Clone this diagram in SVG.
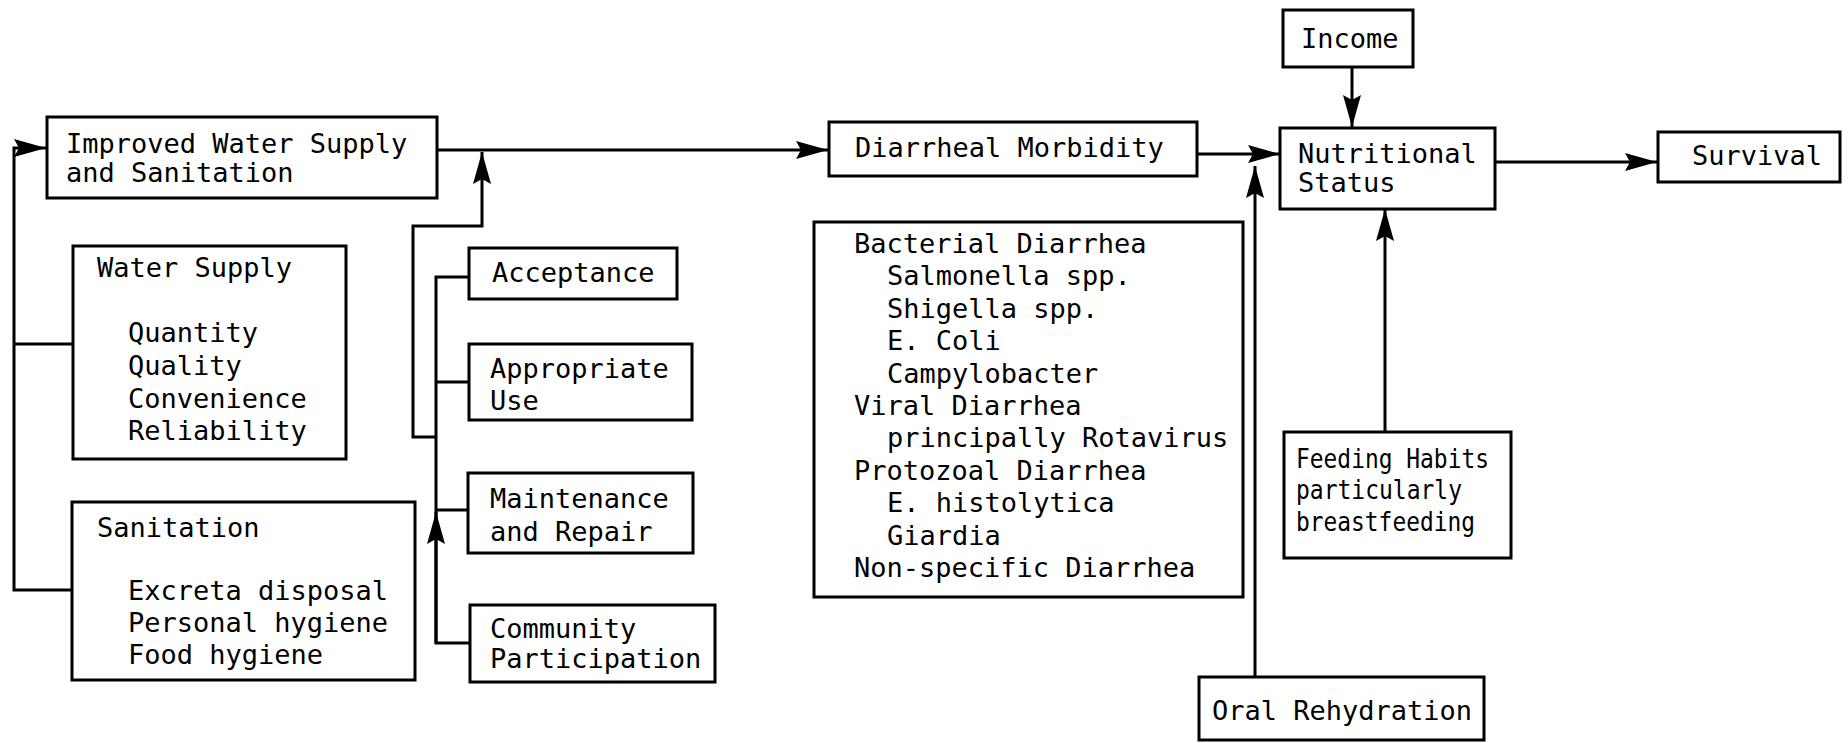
<svg xmlns="http://www.w3.org/2000/svg" width="1848" height="743" viewBox="0 0 1848 743">
<style>
.box{fill:#fff;stroke:#000;stroke-width:3}
.t{font-family:"DejaVu Sans Mono","Liberation Mono",monospace;font-size:27px;fill:#000}
.c{fill:none;stroke:#000;stroke-width:3}
</style>
<defs>
<marker id="ah" markerUnits="userSpaceOnUse" markerWidth="34" markerHeight="20" refX="32" refY="9" orient="auto">
<path d="M0,0 L32,9 L0,18 L5,9 z" fill="#000"/>
</marker>
</defs>
<rect width="1848" height="743" fill="#fff"/>
<g id="connectors">
<path class="c" d="M73,590 H14 V148 H46" marker-end="url(#ah)"/>
<path class="c" d="M14,344 H73"/>
<path class="c" d="M437,150 H828" marker-end="url(#ah)"/>
<path class="c" d="M436,437 H413 V226 H482 V152" marker-end="url(#ah)"/>
<path class="c" d="M469,277 H436 V643 H470"/>
<path class="c" d="M436,382 H469"/>
<path class="c" d="M436,510 H468"/>
<path class="c" d="M436,643 V512" marker-end="url(#ah)"/>
<path class="c" d="M1197,154 H1280" marker-end="url(#ah)"/>
<path class="c" d="M1255,677 V166" marker-end="url(#ah)"/>
<path class="c" d="M1352,67 V127" marker-end="url(#ah)"/>
<path class="c" d="M1495,162 H1657" marker-end="url(#ah)"/>
<path class="c" d="M1385,432 V209" marker-end="url(#ah)"/>
</g>
<g id="improved">
<rect class="box" x="47" y="117" width="390" height="81"/>
<text class="t" x="66" y="153">Improved Water Supply</text>
<text class="t" x="66" y="182">and Sanitation</text>
</g>
<g id="water-supply">
<rect class="box" x="73" y="246" width="273" height="213"/>
<text class="t" x="97" y="277">Water Supply</text>
<text class="t" x="128" y="342">Quantity</text>
<text class="t" x="128" y="375">Quality</text>
<text class="t" x="128" y="408">Convenience</text>
<text class="t" x="128" y="440">Reliability</text>
</g>
<g id="sanitation">
<rect class="box" x="72" y="502" width="343" height="178"/>
<text class="t" x="97" y="537">Sanitation</text>
<text class="t" x="128" y="600">Excreta disposal</text>
<text class="t" x="128" y="632">Personal hygiene</text>
<text class="t" x="128" y="664">Food hygiene</text>
</g>
<g id="acceptance">
<rect class="box" x="469" y="248" width="208" height="51"/>
<text class="t" x="492" y="282">Acceptance</text>
</g>
<g id="appropriate-use">
<rect class="box" x="469" y="344" width="223" height="76"/>
<text class="t" x="490" y="378">Appropriate</text>
<text class="t" x="490" y="410">Use</text>
</g>
<g id="maintenance">
<rect class="box" x="468" y="473" width="225" height="80"/>
<text class="t" x="490" y="508">Maintenance</text>
<text class="t" x="490" y="541">and Repair</text>
</g>
<g id="community">
<rect class="box" x="470" y="605" width="245" height="77"/>
<text class="t" x="490" y="638">Community</text>
<text class="t" x="490" y="668">Participation</text>
</g>
<g id="diarrheal-morbidity">
<rect class="box" x="829" y="122" width="368" height="54"/>
<text class="t" x="855" y="157">Diarrheal Morbidity</text>
</g>
<g id="diarrhea-types">
<rect class="box" x="814" y="222" width="429" height="375"/>
<text class="t" x="854" y="253">Bacterial Diarrhea</text>
<text class="t" x="887" y="285">Salmonella spp.</text>
<text class="t" x="887" y="318">Shigella spp.</text>
<text class="t" x="887" y="350">E. Coli</text>
<text class="t" x="887" y="383">Campylobacter</text>
<text class="t" x="854" y="415">Viral Diarrhea</text>
<text class="t" x="887" y="447">principally Rotavirus</text>
<text class="t" x="854" y="480">Protozoal Diarrhea</text>
<text class="t" x="887" y="512">E. histolytica</text>
<text class="t" x="887" y="545">Giardia</text>
<text class="t" x="854" y="577">Non-specific Diarrhea</text>
</g>
<g id="oral-rehydration">
<rect class="box" x="1199" y="677" width="285" height="63"/>
<text class="t" x="1212" y="720">Oral Rehydration</text>
</g>
<g id="income">
<rect class="box" x="1283" y="10" width="130" height="57"/>
<text class="t" x="1301" y="48">Income</text>
</g>
<g id="nutritional-status">
<rect class="box" x="1280" y="128" width="215" height="81"/>
<text class="t" x="1298" y="163">Nutritional</text>
<text class="t" x="1298" y="192">Status</text>
</g>
<g id="survival">
<rect class="box" x="1658" y="132" width="182" height="50"/>
<text class="t" x="1692" y="165">Survival</text>
</g>
<g id="feeding-habits">
<rect class="box" x="1284" y="432" width="227" height="126"/>
<text class="t" x="1296" y="468" textLength="193" lengthAdjust="spacingAndGlyphs">Feeding Habits</text>
<text class="t" x="1296" y="499" textLength="166" lengthAdjust="spacingAndGlyphs">particularly</text>
<text class="t" x="1296" y="531" textLength="179" lengthAdjust="spacingAndGlyphs">breastfeeding</text>
</g>
</svg>
